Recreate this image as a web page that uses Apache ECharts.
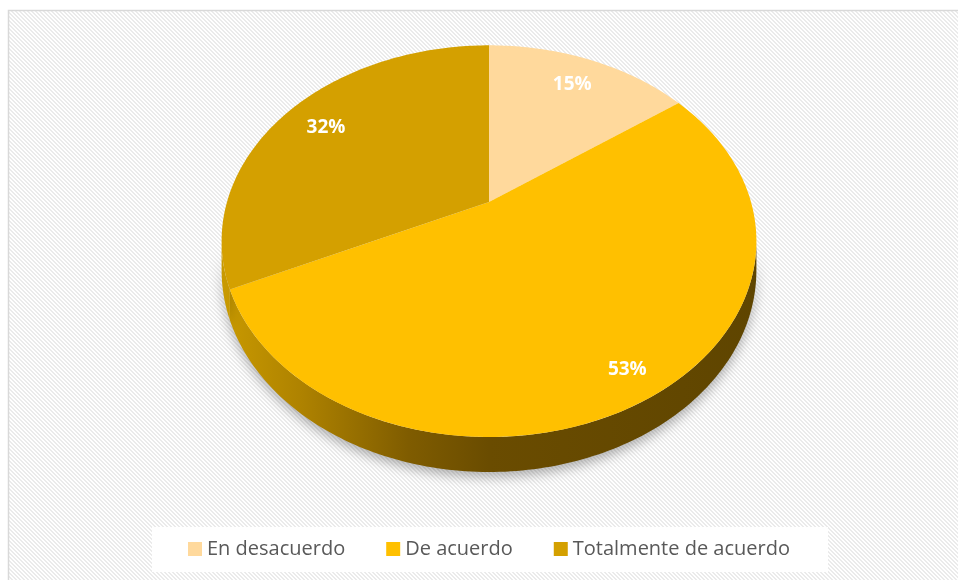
<!DOCTYPE html>
<html>
<head>
<meta charset="utf-8">
<title>Pie 3D</title>
<script src="https://cdn.jsdelivr.net/npm/echarts@6/dist/echarts.min.js"></script>
<style>
  html, body { margin: 0; padding: 0; background: #fff; }
  #chart { width: 958px; height: 580px; }
</style>
</head>
<body>
<div id="chart"></div>
<script>
const CATEGORIES = ['En desacuerdo', 'De acuerdo', 'Totalmente de acuerdo']
const VALUES     = [15, 53, 32]
const TOP_COLORS = ['#FFD99C', '#FFC000', '#D4A000']

// Excel-style 3-D pie: projected centre, half axes, perspective and side height
const CX = 489, CY = 202
const RX = 262, RY = 188
const PERSP = 0.2
const DEPTH = 28
const LABEL_R = [0.8, 0.88, 0.8]

const total = VALUES.reduce((a, b) => a + b, 0)
const startAngles = []
let acc = 0
VALUES.forEach(v => { startAngles.push(acc / total * 360); acc += v })

// front part of the side wall that is visible (between left/right extremes)
const SIDE_FROM = Math.acos(-PERSP) * 180 / Math.PI
const SIDE_TO   = 360 - SIDE_FROM

function project(deg, r, drop) {
  const t = deg * Math.PI / 180
  const u = r * Math.sin(t), v = -r * Math.cos(t)
  const k = 1 / (1 - PERSP * v)
  return [CX + RX * u * k, CY + (RY * v + (drop || 0)) * k]
}

function arc(a0, a1, drop) {
  const pts = []
  const n = Math.max(2, Math.ceil(Math.abs(a1 - a0)))
  for (let j = 0; j <= n; j++) pts.push(project(a0 + (a1 - a0) * j / n, 1, drop))
  return pts
}

const sideFill = new echarts.graphic.LinearGradient(CX - RX * 1.02, 0, CX + RX * 1.02, 0, [
  { offset: 0,    color: '#c99a00' },
  { offset: 0.15, color: '#ae8200' },
  { offset: 0.35, color: '#7f5c00' },
  { offset: 0.5,  color: '#6a4c00' },
  { offset: 1,    color: '#5f4500' },
], true)

function renderSlice(i, value) {
  const a0 = startAngles[i]
  const a1 = a0 + value / total * 360
  const children = []

  // side wall
  const s = Math.max(a0, SIDE_FROM), e = Math.min(a1, SIDE_TO)
  if (e > s) {
    const pts = arc(s, e, 0).concat(arc(e, s, DEPTH))
    children.push({
      type: 'polygon', z2: 0,
      shape: { points: pts },
      style: {
        fill: sideFill,
        shadowBlur: 12, shadowColor: 'rgba(0,0,0,0.3)', shadowOffsetY: 5,
      },
    })
  }

  // top face
  children.push({
    type: 'polygon', z2: 10,
    shape: { points: [[CX, CY]].concat(arc(a0, a1, 0)) },
    style: { fill: TOP_COLORS[i] },
  })

  // percentage label
  const p = project((a0 + a1) / 2, LABEL_R[i], 0)
  children.push({
    type: 'text', z2: 20,
    x: p[0], y: p[1],
    style: {
      text: Math.round(value / total * 100) + '%',
      fill: '#fff',
      font: 'bold 19px "Open Sans"',
      align: 'center', verticalAlign: 'middle',
    },
  })

  return { type: 'group', children }
}

function stripeTile() {
  const c = document.createElement('canvas')
  c.width = 4; c.height = 4
  const g = c.getContext('2d')
  g.fillStyle = '#ffffff'
  g.fillRect(0, 0, 4, 4)
  g.fillStyle = '#ebebeb'
  for (let y = 0; y < 4; y++)
    for (let x = 0; x < 4; x++)
      if ((((x - y) % 4) + 4) % 4 < 2) g.fillRect(x, y, 1, 1)
  return c
}

const chart = echarts.init(document.getElementById('chart'), null, { renderer: 'canvas' })

chart.setOption({
  animation: false,
  backgroundColor: '#fff',
  graphic: [{
    type: 'rect', z: -10, silent: true,
    shape: { x: 8.5, y: 10.5, width: 960, height: 580 },
    style: { fill: { image: stripeTile(), repeat: 'repeat' }, stroke: '#d9d9d9', lineWidth: 1.5 },
  }],
  legend: {
    data: CATEGORIES,
    left: 152, top: 527,
    padding: [12, 38, 13, 36],
    backgroundColor: '#fff',
    icon: 'rect',
    itemWidth: 14, itemHeight: 14, itemGap: 41,
    selectedMode: false,
    textStyle: { fontFamily: 'Open Sans', fontSize: 20, color: '#595959' },
  },
  series: CATEGORIES.map((name, i) => ({
    type: 'custom',
    name,
    coordinateSystem: 'none',
    silent: true,
    itemStyle: { color: TOP_COLORS[i] },
    data: [VALUES[i]],
    renderItem: (params, api) => renderSlice(i, api.value(0)),
  })),
})
</script>
</body>
</html>
